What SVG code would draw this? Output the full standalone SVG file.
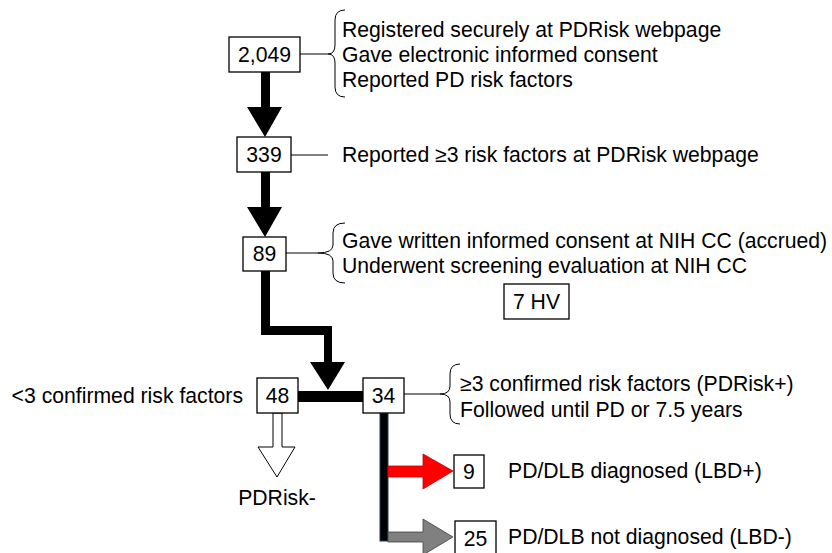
<svg xmlns="http://www.w3.org/2000/svg" width="832" height="553" viewBox="0 0 832 553">
<style>
text{font-family:"Liberation Sans",Arial,sans-serif;font-size:21.2px;fill:#000}
.c{text-anchor:middle}
.box{fill:#fff;stroke:#000;stroke-width:1.3}
.ln{fill:none;stroke:#000;stroke-width:1}
.br{fill:none;stroke:#000;stroke-width:1}
</style>
<rect width="832" height="553" fill="#fff"/>
<g id="connectors">
  <polygon points="261,72 270,72 270,107 282,107 265,137 247,107 261,107" fill="#000"/>
  <polygon points="261,172 270,172 270,207 282,207 265,237 247,207 261,207" fill="#000"/>
  <polygon points="261,271 270,271 270,326 332,326 332,362 345,362 328,390 310,362 324,362 324,335 261,335" fill="#000"/>
  <rect x="298" y="391" width="65" height="11" fill="#000"/>
  <polygon points="273,413 282,413 282,447 295,447 277,477 258,447 273,447" fill="#fff" stroke="#000" stroke-width="1"/>
  <rect x="380" y="413" width="8" height="128" fill="#000" stroke="#1f3864" stroke-width="1"/>
  <polygon points="388,466 423,466 423,454 453,471 423,489 423,477 388,477" fill="#ff0000" stroke="#c00000" stroke-width="0.8"/>
  <polygon points="388,532 423,532 423,519 453,537 423,555 423,542 388,542" fill="#808080" stroke="#404040" stroke-width="0.8"/>
  <line class="ln" x1="300" y1="54" x2="328" y2="54"/>
  <path class="br" d="M345 10 Q335 10 335 20 L335 45 Q335 54 328 54 Q335 54 335 63 L335 87 Q335 97 345 97"/>
  <line class="ln" x1="291" y1="155" x2="328" y2="155"/>
  <line class="ln" x1="286" y1="253" x2="318" y2="253"/>
  <path class="br" d="M345 223 Q333 223 333 233 L333 245 Q333 253 318 253 Q333 253 333 261 L333 273 Q333 283 345 283"/>
  <line class="ln" x1="404" y1="394" x2="440" y2="394"/>
  <path class="br" d="M460 364 Q450 364 450 374 L450 386 Q450 394 440 394 Q450 394 450 402 L450 414 Q450 424 460 424"/>
</g>
<g id="n2049"><rect class="box" x="229" y="37" width="71" height="35"/><text class="c" x="264.5" y="62">2,049</text></g>
<g id="t2049">
  <text x="342" y="37">Registered securely at PDRisk webpage</text>
  <text x="342" y="62">Gave electronic informed consent</text>
  <text x="342" y="87">Reported PD risk factors</text>
</g>
<g id="n339"><rect class="box" x="237" y="137" width="54" height="35"/><text class="c" x="264" y="162">339</text></g>
<g id="t339"><text x="342" y="162">Reported ≥3 risk factors at PDRisk webpage</text></g>
<g id="n89"><rect class="box" x="243" y="237" width="43" height="34"/><text class="c" x="264.5" y="261">89</text></g>
<g id="t89">
  <text x="342" y="248">Gave written informed consent at NIH CC (accrued)</text>
  <text x="342" y="273">Underwent screening evaluation at NIH CC</text>
</g>
<g id="n7hv"><rect class="box" x="504" y="284" width="65" height="35"/><text class="c" x="536.5" y="309">7 HV</text></g>
<g id="n48"><rect class="box" x="257" y="378" width="41" height="35"/><text class="c" x="277.5" y="403">48</text></g>
<g id="t48"><text x="243" y="403" text-anchor="end">&lt;3 confirmed risk factors</text></g>
<g id="tPDRiskMinus"><text class="c" x="277" y="505">PDRisk-</text></g>
<g id="n34"><rect class="box" x="363" y="378" width="41" height="35"/><text class="c" x="383.5" y="403">34</text></g>
<g id="t34">
  <text x="460" y="391">≥3 confirmed risk factors (PDRisk+)</text>
  <text x="460" y="417">Followed until PD or 7.5 years</text>
</g>
<g id="n9"><rect class="box" x="454" y="455" width="30" height="33"/><text class="c" x="469" y="479">9</text></g>
<g id="t9"><text x="508" y="478">PD/DLB diagnosed (LBD+)</text></g>
<g id="n25"><rect class="box" x="455" y="521" width="41" height="36"/><text class="c" x="475.5" y="546">25</text></g>
<g id="t25"><text x="508" y="544">PD/DLB not diagnosed (LBD-)</text></g>
</svg>
